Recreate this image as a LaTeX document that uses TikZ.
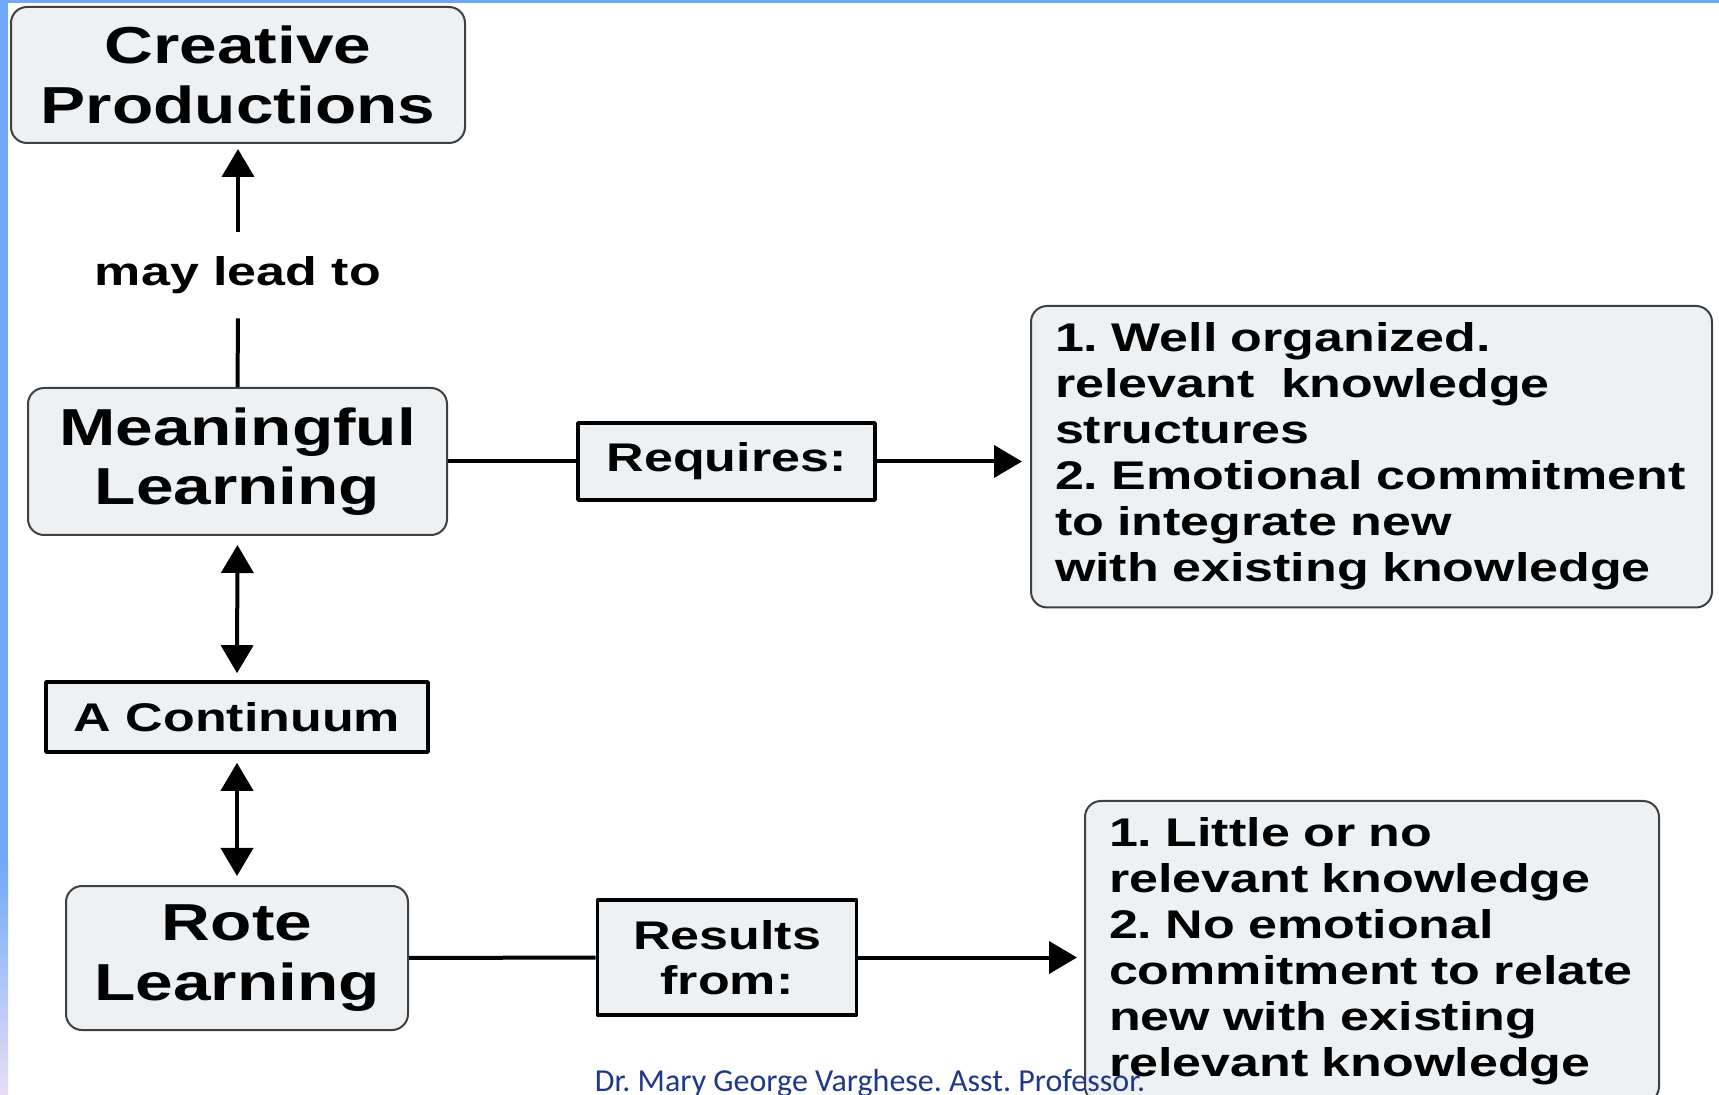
\documentclass[tikz,border=0pt]{standalone}
\usepackage{fontspec}
\setmainfont{Liberation Sans}[FakeStretch=1.3]
\newfontfamily\footfont{Carlito}
\usetikzlibrary{arrows.meta}
\definecolor{boxfill}{RGB}{237,241,244}
\definecolor{edgegray}{RGB}{64,64,64}
\definecolor{stripblue}{RGB}{112,168,248}
\definecolor{lavender}{RGB}{232,222,245}
\definecolor{footblue}{RGB}{32,56,140}
\frenchspacing
\begin{document}
\begin{tikzpicture}[x=0.5pt,y=-0.5pt,>={Triangle[length=14pt,width=16pt]},line join=round,
    roundbox/.style={draw=edgegray,line width=1pt,fill=boxfill,rounded corners=8pt,align=center,
      font=\bfseries\fontsize{26}{30}\selectfont},
    tagbox/.style={draw=black,line width=1.8pt,fill=boxfill,align=center,
      font=\bfseries\fontsize{20}{22.5}\selectfont},
    listbox/.style={roundbox,align=left,anchor=north west,inner xsep=12pt,inner ysep=8.5pt,
      font=\bfseries\fontsize{20}{23}\selectfont},
    link/.style={line width=2pt}]
    \useasboundingbox (0,0) rectangle (1719,1095);
    \clip (0,0) rectangle (1719,1095);
    \fill[white] (0,0) rectangle (1719,1095);
    \fill[stripblue] (0,0) rectangle (1719,3);
    \fill[stripblue] (0,0) rectangle (8,860);
    \shade[top color=stripblue,bottom color=lavender] (0,860) rectangle (8,1095); % left strip
    % concept boxes
    \node[roundbox,minimum width=227pt,minimum height=68pt] (cp) at (238,75) {Creative\\Productions};
    \node[font=\bfseries\fontsize{20}{22}\selectfont,minimum height=43pt] (lead) at (238,275) {may lead to};
    \node[roundbox,minimum width=209.5pt,minimum height=73.5pt,font=\bfseries\fontsize{26}{29.5}\selectfont] (ml) at (237.5,461.5) {Meaningful\\Learning};
    \node[tagbox,minimum width=191pt,minimum height=35pt] (cont) at (237,717) {A Continuum};
    \node[roundbox,minimum width=171pt,minimum height=72pt] (rl) at (237,958) {Rote\\Learning};
    \node[tagbox,minimum width=148.5pt,minimum height=38.5pt] (req) at (726.5,461.5) {Requires:};
    \node[tagbox,minimum width=129.5pt,minimum height=57.5pt] (res) at (727,957.5) {Results\\from:};
    \node[listbox,text width=316.5pt] (need) at (1030,305) {1.~Well~organized.\\relevant~~knowledge\\structures\\2.~Emotional~commitment\\to~integrate~new\\with~existing~knowledge};
    \node[listbox,text width=263pt] (lack) at (1084,800) {1.~Little~or~no\\relevant~knowledge\\2.~No~emotional\\commitment~to~relate\\new~with~existing\\relevant~knowledge};
    % links
    \draw[link] (ml.north) -- (lead.south);
    \draw[link,->,shorten >=2.5pt] (lead.north) -- (cp.south);
    \draw[link,<->,shorten <=4.5pt,shorten >=3.5pt] (ml.south) -- (cont.north);
    \draw[link,<->,shorten <=4.5pt,shorten >=4.5pt] (cont.south) -- (rl.north);
    \draw[link] (ml.east) -- (req.west);
    \draw[link,->,shorten >=4pt] (req.east) -- (req.east -| need.west);
    \draw[link] (rl.east) -- (res.west);
    \draw[link,->,shorten >=3.5pt] (res.east) -- (res.east -| lack.west);
    \node[font=\footfont\fontsize{16}{18}\selectfont,text=footblue,anchor=base] (credit) at (870,1091) {Dr. Mary George Varghese. Asst. Professor.};
\end{tikzpicture}
\end{document}
